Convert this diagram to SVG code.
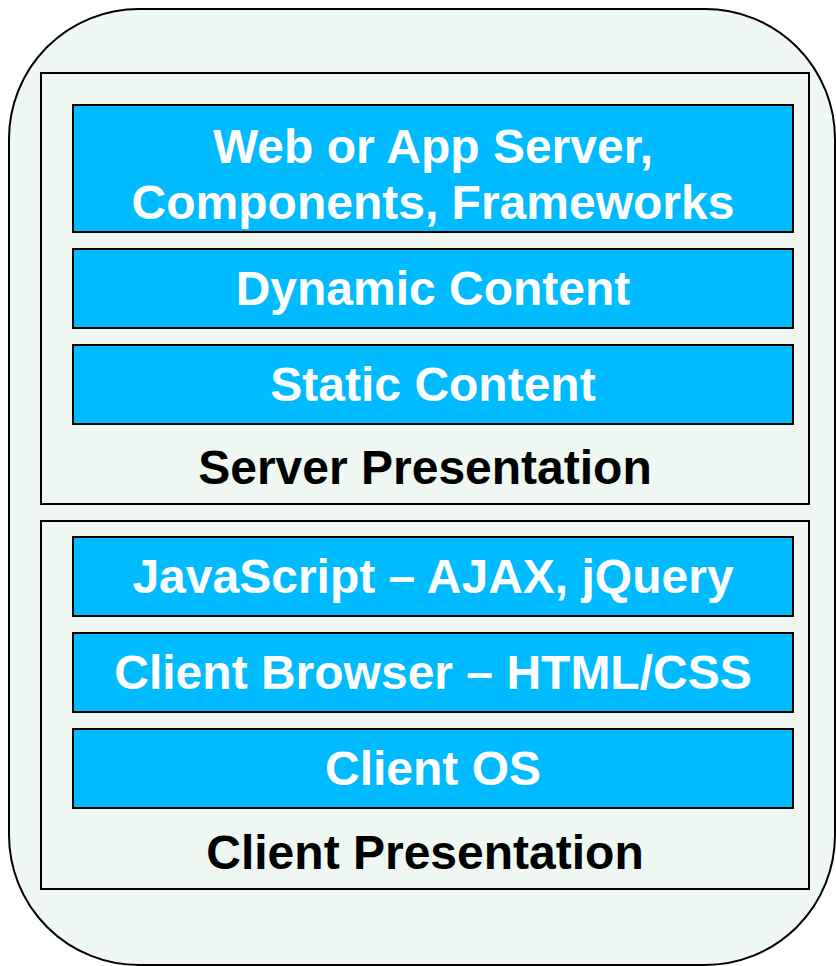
<svg xmlns="http://www.w3.org/2000/svg" width="836" height="966" viewBox="0 0 836 966">
<style>
.frame{fill:none;stroke:#000;stroke-width:2}
.blk{fill:#00BBFF;stroke:#000;stroke-width:2}
.t{font-family:"Liberation Sans",Arial,sans-serif;font-weight:bold;font-size:48px;text-anchor:middle}
.w{fill:#fff}
.k{fill:#000}
</style>
<rect width="836" height="966" fill="#fff"/>
<g id="outer"><rect x="9" y="9" width="826" height="956" rx="130" ry="130" fill="#EEF7F2" stroke="#000" stroke-width="2"/></g>
<g id="server">
<rect class="frame" x="41" y="73" width="768" height="431"/>
<text class="t k" x="425" y="484">Server Presentation</text>
</g>
<g id="client">
<rect class="frame" x="41" y="521" width="768" height="368"/>
<text class="t k" x="425" y="869">Client Presentation</text>
</g>
<g id="web">
<rect class="blk" x="73" y="105" width="720" height="127"/>
<text class="t w" x="433" y="163">Web or App Server,</text>
<text class="t w" x="433" y="219">Components, Frameworks</text>
</g>
<g id="dynamic">
<rect class="blk" x="73" y="249" width="720" height="79"/>
<text class="t w" x="433" y="305">Dynamic Content</text>
</g>
<g id="static">
<rect class="blk" x="73" y="345" width="720" height="79"/>
<text class="t w" x="433" y="401">Static Content</text>
</g>
<g id="js">
<rect class="blk" x="73" y="537" width="720" height="79"/>
<text class="t w" x="433" y="593">JavaScript – AJAX, jQuery</text>
</g>
<g id="browser">
<rect class="blk" x="73" y="633" width="720" height="79"/>
<text class="t w" x="433" y="689">Client Browser – HTML/CSS</text>
</g>
<g id="os">
<rect class="blk" x="73" y="729" width="720" height="79"/>
<text class="t w" x="433" y="785">Client OS</text>
</g>
<g id="connectors"/>
</svg>
